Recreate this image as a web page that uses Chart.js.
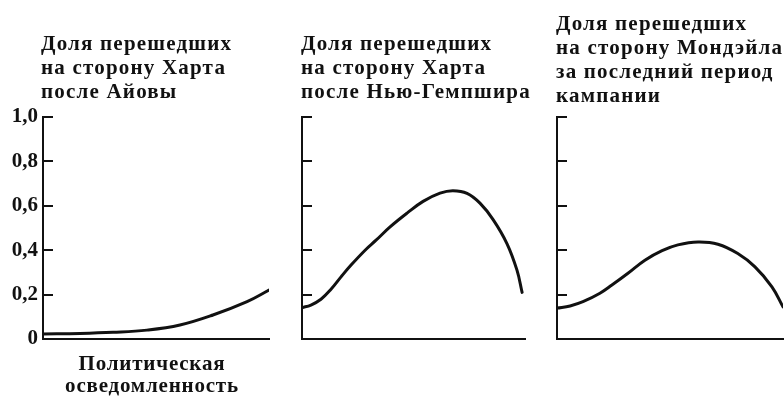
<!DOCTYPE html>
<html><head><meta charset="utf-8">
<script src="https://cdn.jsdelivr.net/npm/chart.js@4/dist/chart.umd.min.js"></script>
<style>
html,body{margin:0;padding:0;background:#fff;}
#wrap{position:relative;width:784px;height:396px;overflow:hidden;background:#fff;}
canvas{position:absolute;left:0;top:0;}
.t{position:absolute;font-family:"Liberation Serif",serif;font-weight:bold;font-size:21px;line-height:24px;color:#111;letter-spacing:1.2px;white-space:nowrap;}
.xl{position:absolute;font-family:"Liberation Serif",serif;font-weight:bold;font-size:21px;line-height:22px;color:#111;letter-spacing:0.8px;white-space:nowrap;text-align:center;}
</style></head>
<body>
<div id="wrap">
<canvas id="c1" width="784" height="396"></canvas>
<canvas id="c2" width="784" height="396"></canvas>
<canvas id="c3" width="784" height="396"></canvas>
<div class="t" id="t1" style="left:41px;top:31px"></div>
<div class="t" id="t2" style="left:301px;top:31px"></div>
<div class="t" id="t3" style="left:556px;top:11px"></div>
<div class="xl" id="xl" style="left:152px;top:352px;transform:translateX(-50%)"></div>
</div>
<script>
// Tick labels of the shared y axis
const yTickValues = [0, 0.2, 0.4, 0.6, 0.8, 1.0];
const yTickLabels = ['0', '0,2', '0,4', '0,6', '0,8', '1,0'];

// Panel titles
const title1 = ['Доля перешедших', 'на сторону Харта', 'после Айовы'];
const title2 = ['Доля перешедших', 'на сторону Харта', 'после Нью-Гемпшира'];
const title3 = ['Доля перешедших', 'на сторону Мондэйла', 'за последний период', 'кампании'];
const xAxisLabel = ['Политическая', 'осведомленность'];

// Panel 1: Hart after Iowa (x = relative political awareness 0..1)
const awareness1 = [0, 0.164, 0.31, 0.46, 0.606, 0.752, 0.903, 1.0];
const share1     = [0.023, 0.025, 0.03, 0.04, 0.063, 0.108, 0.168, 0.22];

// Panel 2: Hart after New Hampshire
const awareness2 = [0, 0.04, 0.085, 0.13, 0.175, 0.22, 0.283, 0.332, 0.395, 0.471, 0.543, 0.619, 0.677, 0.74, 0.798, 0.857, 0.919, 0.964, 0.987];
const share2     = [0.141, 0.153, 0.179, 0.224, 0.28, 0.333, 0.4, 0.445, 0.505, 0.567, 0.62, 0.657, 0.668, 0.656, 0.612, 0.538, 0.43, 0.31, 0.21];

// Panel 3: Mondale in the last period of the campaign
const awareness3 = [0, 0.058, 0.115, 0.19, 0.243, 0.314, 0.389, 0.465, 0.535, 0.624, 0.712, 0.8, 0.876, 0.951, 1.0];
const share3     = [0.139, 0.149, 0.168, 0.206, 0.243, 0.296, 0.355, 0.398, 0.424, 0.437, 0.427, 0.385, 0.325, 0.235, 0.145];

document.getElementById('t1').innerHTML = title1.join('<br>');
document.getElementById('t2').innerHTML = title2.join('<br>');
document.getElementById('t3').innerHTML = title3.join('<br>');
document.getElementById('xl').innerHTML = xAxisLabel.join('<br>');

const INK = '#111';
const W = 784, H = 396, TOP = 117, BOTTOM = 339;

function makeChart(id, xs, ys, left, right, showLabels) {
  const labelW = showLabels ? 43 : 0;
  return new Chart(document.getElementById(id), {
    type: 'line',
    data: {
      datasets: [{
        data: xs.map((x, i) => ({x: x, y: ys[i]})),
        borderColor: INK,
        borderWidth: 3,
        pointRadius: 0,
        fill: false,
        tension: 0.4,
        borderCapStyle: 'round',
        borderJoinStyle: 'round'
      }]
    },
    options: {
      responsive: false,
      animation: false,
      events: [],
      layout: {padding: {left: left - labelW, right: W - right, top: TOP, bottom: H - BOTTOM}},
      plugins: {legend: {display: false}, tooltip: {enabled: false}, title: {display: false}},
      scales: {
        x: {
          type: 'linear', min: 0, max: 1,
          grid: {display: false},
          ticks: {display: false},
          border: {display: true, color: INK, width: 2},
          afterFit(s) { s.height = 0; }
        },
        y: {
          type: 'linear', min: 0, max: 1,
          afterBuildTicks(s) { s.ticks = yTickValues.map(v => ({value: v})); },
          grid: {drawOnChartArea: false, drawTicks: true, tickLength: -10, color: INK, lineWidth: 2},
          border: {display: true, color: INK, width: 2},
          ticks: {
            display: showLabels,
            padding: 15,
            color: INK,
            font: {family: '"Liberation Serif", serif', weight: 'bold', size: 21},
            callback: (v) => yTickLabels[yTickValues.findIndex(t => Math.abs(t - v) < 1e-9)]
          },
          afterFit(s) { s.width = labelW; }
        }
      }
    }
  });
}

makeChart('c1', awareness1, share1, 43, 269, true);
makeChart('c2', awareness2, share2, 302, 525, false);
makeChart('c3', awareness3, share3, 557, 783, false);
</script>
</body></html>
